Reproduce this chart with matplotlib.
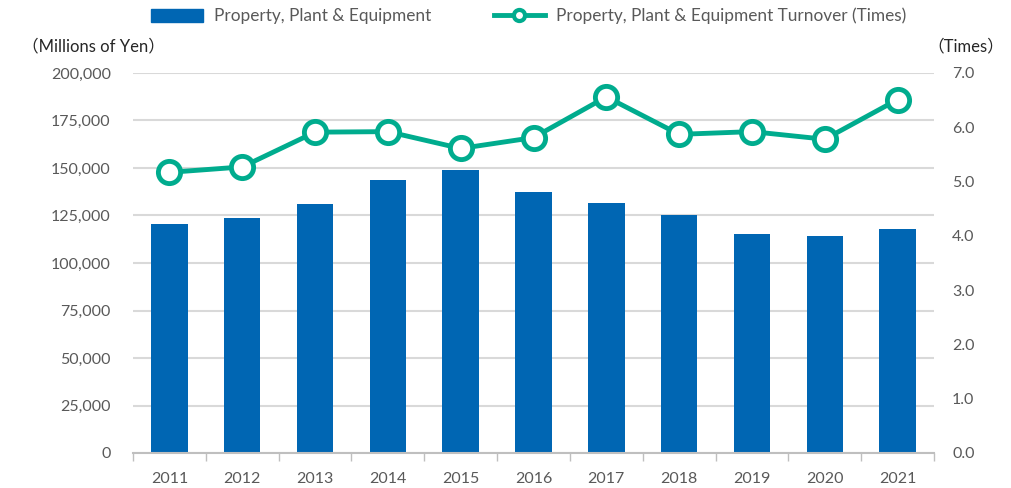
import matplotlib
matplotlib.use("Agg")
import matplotlib.pyplot as plt
from matplotlib.lines import Line2D
from matplotlib.patches import Patch
import numpy as np

years = ["2011", "2012", "2013", "2014", "2015", "2016", "2017", "2018", "2019", "2020", "2021"]
ppe = [120500, 123800, 131200, 143700, 148900, 137200, 131600, 125300, 115100, 114200, 117700]
turnover = [5.17, 5.27, 5.91, 5.92, 5.61, 5.81, 6.56, 5.87, 5.92, 5.78, 6.51]
left_ticks = [0, 25000, 50000, 75000, 100000, 125000, 150000, 175000, 200000]
right_ticks = [0.0, 1.0, 2.0, 3.0, 4.0, 5.0, 6.0, 7.0]

BAR = "#0066B3"
LINE = "#00AC8E"
TXT = "#595959"
GRID = "#D9D9D9"
FONT = ["Lato", "Noto Sans CJK JP", "DejaVu Sans"]
plt.rcParams["font.family"] = FONT

W, H = 1011, 488
fig = plt.figure(figsize=(W / 100, H / 100), dpi=100)
ax = fig.add_axes([133 / W, 1 - 453 / H, (934 - 133) / W, (453 - 73) / H])
x = np.arange(len(years))
ax.bar(x, ppe, width=0.5, color=BAR, zorder=2)
ax.set_xlim(-0.5, len(years) - 0.5)
ax.set_ylim(0, 200000)
ax.set_yticks(left_ticks)
ax.set_yticklabels([f"{v:,}" for v in left_ticks])
ax.grid(axis="y", color=GRID, linewidth=1.5, zorder=0)
ax.set_axisbelow(True)
for s in ["top", "right", "left"]:
    ax.spines[s].set_visible(False)
ax.spines["bottom"].set_color("#BFBFBF")
ax.spines["bottom"].set_linewidth(1.5)
ax.tick_params(axis="y", length=0, pad=16, labelsize=11.5, colors=TXT)
ax.set_xticks(x)
ax.set_xticklabels(years)
ax.tick_params(axis="x", length=0, pad=14, labelsize=11.5, colors=TXT)
ax.set_xticks(np.arange(-0.5, len(years)), minor=True)
ax.tick_params(axis="x", which="minor", length=6, width=1, color="#BFBFBF")

ax2 = ax.twinx()
ax2.plot(x, turnover, color=LINE, linewidth=3.5, marker="o", markersize=16,
         markerfacecolor="white", markeredgecolor=LINE, markeredgewidth=3.5, zorder=3)
ax2.set_ylim(0, 7)
ax2.set_yticks(right_ticks)
ax2.set_yticklabels([f"{v:.1f}" for v in right_ticks])
for s in ["top", "right", "left", "bottom"]:
    ax2.spines[s].set_visible(False)
ax2.tick_params(axis="y", length=0, pad=13, labelsize=11.5, colors=TXT)

fig.text(22 / W, 1 - 46 / H, "（Millions of Yen）", fontsize=12, color="#262626",
         va="center", ha="left", family=FONT)
fig.text(1004 / W, 1 - 46 / H, "（Times）", fontsize=12, color="#262626",
         va="center", ha="right", family=FONT)

handles = [Patch(facecolor=BAR, edgecolor=BAR),
           Line2D([0], [0], color=LINE, linewidth=3.5, marker="o", markersize=8,
                  markerfacecolor="white", markeredgecolor=LINE, markeredgewidth=3)]
labels = ["Property, Plant & Equipment", "Property, Plant & Equipment Turnover (Times)"]
leg = fig.legend(handles, labels, loc="center", bbox_to_anchor=(529 / W, 1 - 16 / H), ncol=2,
                 frameon=False, fontsize=12.4, handlelength=3.0, handleheight=0.75,
                 columnspacing=3.6, handletextpad=0.65)
for t in leg.get_texts():
    t.set_color(TXT)

fig.savefig("out.png", dpi=100)
